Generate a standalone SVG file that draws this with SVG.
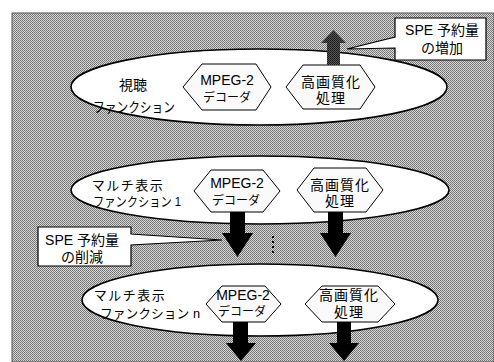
<svg xmlns="http://www.w3.org/2000/svg" width="494" height="362" viewBox="0 0 494 362">
<defs>
<pattern id="dither" width="2" height="2" patternUnits="userSpaceOnUse">
<rect width="2" height="2" fill="#d8d8d8"/>
<rect x="0" y="0" width="1" height="1" fill="#707070"/>
<rect x="1" y="1" width="1" height="1" fill="#7c7c7c"/>
</pattern>
<pattern id="darkdither" width="2" height="2" patternUnits="userSpaceOnUse">
<rect width="2" height="2" fill="#555"/>
<rect x="0" y="0" width="1" height="1" fill="#1a1a1a"/>
<rect x="1" y="1" width="1" height="1" fill="#222"/>
</pattern>
</defs>
<style>
.bg{fill:url(#dither);stroke:#555;stroke-width:1}
.ell{fill:#fff;stroke:#000;stroke-width:1.6}
.hex{fill:#fafafa;stroke:#000;stroke-width:1}
.call{fill:#fff;stroke:#000;stroke-width:1.2}
.dn{fill:#000}
.up{fill:url(#darkdither)}
text{font-family:"Liberation Sans","Noto Sans CJK JP",sans-serif;font-size:14px;fill:#000;text-anchor:middle}
.sm{font-size:12px}
.lb{font-size:13px}
</style>
<rect class="bg" x="12" y="13" width="482" height="349"/>

<g id="func1">
<ellipse class="ell" cx="259" cy="87" rx="188" ry="38"/>
<text x="133" y="90">視聴</text>
<text x="134" y="112" textLength="82" lengthAdjust="spacingAndGlyphs">ファンクション</text>
</g>
<g id="mpeg1">
<polygon class="hex" points="183,87 202,64 256,64 271,87 256,110 202,110"/>
<text x="227" y="85">MPEG-2</text>
<text x="227" y="102" class="sm">デコーダ</text>
</g>
<g id="hq1">
<polygon class="hex" points="286,87 303,65 360,65 375,87 360,109 303,109"/>
<text x="331" y="87" letter-spacing="1">高画質化</text>
<text x="331" y="103" letter-spacing="1">処理</text>
</g>

<g id="func2">
<ellipse class="ell" cx="260" cy="190" rx="189" ry="34"/>
<text x="128" y="190" class="lb" letter-spacing="1.5">マルチ表示</text>
<text x="137" y="206" class="lb" textLength="88" lengthAdjust="spacingAndGlyphs">ファンクション 1</text>
</g>
<g id="mpeg2">
<polygon class="hex" points="194,191 211,170 263,170 280,191 263,212 211,212"/>
<text x="237" y="188">MPEG-2</text>
<text x="236" y="205" class="sm">デコーダ</text>
</g>
<g id="hq2">
<polygon class="hex" points="297,190 314,168 366,168 383,190 366,212 314,212"/>
<text x="340" y="190" letter-spacing="1">高画質化</text>
<text x="340" y="206" letter-spacing="1">処理</text>
</g>

<g id="func3">
<ellipse class="ell" cx="260" cy="300" rx="178" ry="36"/>
<text x="130" y="300" class="lb" letter-spacing="1.5">マルチ表示</text>
<text x="150" y="318" class="lb" textLength="100" lengthAdjust="spacingAndGlyphs">ファンクション n</text>
</g>
<g id="mpeg3">
<polygon class="hex" points="206,304 222,286 265,286 281,304 265,322 222,322"/>
<text x="243" y="300">MPEG-2</text>
<text x="242" y="316" class="sm">デコーダ</text>
</g>
<g id="hq3">
<polygon class="hex" points="305,304 322,286 378,286 395,304 378,322 322,322"/>
<text x="349" y="300" letter-spacing="1">高画質化</text>
<text x="349" y="317" letter-spacing="1">処理</text>
</g>

<g id="callout-increase">
<path class="call" d="M395,18 H486 V60 H395 V48 L347,49 L395,37 Z"/>
<text x="442" y="35">SPE 予約量</text>
<text x="442" y="53">の増加</text>
</g>
<g id="callout-decrease">
<path class="call" d="M38,227 H131 V234 L222,240 L131,245 V266 H38 Z"/>
<text x="82" y="245">SPE 予約量</text>
<text x="82" y="262">の削減</text>
</g>

<g id="connectors">
<polygon class="up" points="327,65 340,65 340,43 346,43 333.5,30 321,43 327,43"/>
<polygon class="dn" points="230,212 245,212 245,233 253,233 237.5,257 222,233 230,233"/>
<polygon class="dn" points="328,212 343,212 343,233 351,233 335.5,257 320,233 328,233"/>
<polygon class="dn" points="233,322 248,322 248,343 256,343 241,361 226,343 233,343"/>
<polygon class="dn" points="337,322 351,322 351,343 359,343 344,361 329,343 337,343"/>
<g fill="#000">
<rect x="272" y="236" width="2" height="2"/>
<rect x="272" y="241" width="2" height="2"/>
<rect x="272" y="246" width="2" height="2"/>
<rect x="272" y="251" width="2" height="2"/>
</g>
</g>
</svg>
